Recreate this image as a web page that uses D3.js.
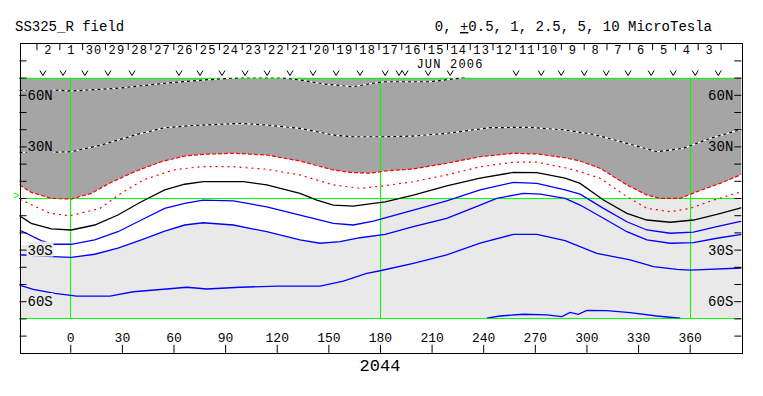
<!DOCTYPE html>
<html>
<head>
<meta charset="UTF-8">
<title>SS325_R field</title>
<script src="https://d3js.org/d3.v7.min.js"></script>
<style>
  body { margin: 0; background: #fff; }
  text { font-family: "Liberation Mono", "DejaVu Sans Mono", monospace; fill: #000; }
</style>
</head>
<body>
<div id="chart"></div>
<script>
// day labels across the top (JUN 2006) and their longitudes
const days = [2, 1, 30, 29, 28, 27, 26, 25, 24, 23, 22, 21, 20, 19, 18, 17, 16, 15, 14, 13, 12, 11, 10, 9, 8, 7, 6, 5, 4, 3];
const dayLons = [-13, 0.3, 13.5, 26.8, 40, 53.3, 66.5, 79.8, 93, 106.3, 119.5, 132.8, 146, 159.3, 172.5,
                 185.8, 199, 212.3, 225.5, 238.8, 252, 265.3, 278.5, 291.8, 305, 318.3, 331.5, 344.8, 358, 371.3];
// "v" pass markers
const markerLons = [-15.9, -4.2, 8.5, 21.9, 35.9, 63.2, 75.4, 88.2, 101.6, 114.4, 127.7, 141.1, 154.5, 168.4,
                    183.0, 191.1, 194.6, 208.0, 220.8, 259.1, 273.7, 285.3, 298.7, 311.5, 324.2, 337.6, 350.4, 363.2, 376.6];
const lonTicks = [0, 30, 60, 90, 120, 150, 180, 210, 240, 270, 300, 330, 360];
const latTicks = [-80, -70, -60, -50, -40, -30, -20, -10, 0, 10, 20, 30, 40, 50, 60, 70, 80];
const latLabels = [[60, "60N"], [30, "30N"], [-30, "30S"], [-60, "60S"]];

// contour lines [lon, lat]
const dottedHigh = [[-29.5,62.5],[-10.1,62.8],[0.6,62.2],[27.7,63.8],[54.9,66.7],[77.2,68.6],[98.7,69.9],[122,69.9],
  [133.5,68.6],[149,66.1],[164.4,64.7],[176,66.7],[183,67.6],[191.7,67.6],[209.1,67.6],[228.3,69.9],[230,70.3]];
const dottedLow = [[-29.5,26.5],[-10.1,26.6],[0.6,26.9],[18.0,30.8],[37.4,36.6],[54.9,40.9],[68.4,42.0],[98.7,43.4],
  [114.2,42.4],[133.5,40.5],[152.9,36.6],[164.5,35.6],[183.0,35.6],[199.4,36.0],[218.8,37.6],[244.0,40.9],
  [267.3,41.1],[287.6,39.5],[304.1,37.0],[323.5,31.8],[340.9,26.9],[356.4,28.9],[371.9,34.7],[390.3,39.9]];
const redDashed = [[-29.5,7.6],[-22.7,3.3],[-11.0,-0.2],[0.6,-0.6],[12.2,2.7],[23.8,9.1],[37.4,15.3],[52.9,21.1],
  [66.5,24.4],[77.2,25.4],[94.8,26.0],[114.2,25.0],[133.5,21.5],[152.9,16.3],[162.6,14.9],[174.2,14.4],
  [183.0,15.7],[199.4,16.9],[218.8,20.2],[238.2,24.0],[257.6,26.0],[271.2,25.6],[287.6,23.4],[296.3,21.5],
  [307.9,17.3],[323.5,7.6],[335.1,1.7],[342.9,-0.2],[354.5,-0.2],[364.2,3.7],[377.7,8.5],[390.3,13.8]];
const redDotted = [[-29.2,-0.8],[-11.8,-8.9],[-0.2,-10.3],[17.3,-6.0],[28.9,2.3],[42.4,10.5],[59.9,16.3],[75.6,18.2],
  [94.8,18.2],[114.2,16.7],[133.5,13.4],[152.9,7.6],[168.4,5.6],[183.0,7.2],[199.4,9.5],[218.8,13.4],
  [238.2,18.2],[257.6,20.8],[271.2,20.8],[287.6,17.6],[296.3,15.3],[307.9,11.5],[323.5,0.8],[335.1,-6.0],
  [348.7,-8.0],[360.3,-6.0],[373.8,-1.2],[390.3,3.7]];
const zeroLine = [[-29.5,-10.3],[-22.7,-14.7],[-11.0,-18.0],[0.6,-18.6],[14.2,-15.7],[27.7,-9.9],[41.3,-2.2],
  [54.9,4.7],[66.5,8.0],[77.2,9.5],[100.6,9.5],[114.2,7.6],[133.5,2.7],[143.3,-1.2],[152.9,-4.1],[164.5,-4.7],
  [176.2,-3.1],[183.0,-2.2],[199.4,1.7],[218.8,7.0],[238.2,11.5],[257.6,14.9],[271.2,14.7],[287.6,11.5],
  [296.3,8.5],[309.9,-1.2],[323.5,-8.9],[335.1,-12.8],[348.7,-14.1],[362.2,-12.8],[375.8,-9.5],[390.3,-5.6]];
const blue1 = [[-29.5,-18.6],[-16.9,-24.8],[-10.1,-26.9],[0.6,-26.9],[14.2,-24.4],[27.7,-19.6],[41.3,-12.8],
  [54.9,-6.0],[66.5,-3.1],[77.2,-1.2],[94.8,-1.7],[114.2,-5.1],[133.5,-9.9],[152.9,-14.7],[164.5,-15.7],
  [176.2,-13.4],[183.0,-11.5],[199.4,-7.0],[218.8,-1.7],[238.2,4.7],[257.6,9.1],[271.2,8.5],[287.6,4.7],
  [296.3,2.2],[309.9,-6.0],[323.5,-13.8],[335.1,-18.6],[348.7,-20.5],[362.2,-19.9],[375.8,-16.7],[390.3,-13.4]];
const blue2 = [[-29.5,-33.0],[-10.1,-34.1],[0.6,-34.5],[14.2,-32.7],[27.7,-29.2],[41.3,-24.4],[54.9,-19.2],
  [66.5,-15.7],[77.2,-14.4],[94.8,-15.7],[114.2,-19.6],[133.5,-24.4],[145.2,-26.3],[156.8,-25.4],[168.4,-23.1],
  [183.0,-21.1],[199.4,-16.7],[218.8,-11.8],[238.2,-4.1],[247.9,-0.2],[263.4,2.7],[273.1,2.3],[287.6,-0.2],
  [296.3,-4.1],[309.9,-11.8],[323.5,-19.6],[335.1,-24.4],[348.7,-26.3],[362.2,-26.0],[375.8,-23.4],[390.3,-21.1]];
const blue3 = [[-29.5,-50.6],[-21.5,-53.1],[-8.9,-55.4],[3.7,-57.0],[23.1,-57.0],[36.6,-54.5],[56.0,-52.9],
  [67.7,-51.9],[79.3,-52.9],[98.7,-51.9],[120.0,-51.2],[145.2,-51.2],[158.7,-48.3],[172.3,-43.8],[180.1,-42.3],
  [199.4,-38.0],[218.8,-33.1],[238.2,-26.3],[257.6,-21.1],[271.2,-21.1],[287.6,-24.8],[306.0,-32.2],
  [325.4,-36.0],[339.0,-39.9],[352.6,-41.5],[360.3,-41.9],[390.3,-40.7]];
const blue4 = [[242.1,-69.9],[249.8,-68.6],[263.4,-67.6],[277.0,-68.0],[285.7,-69.0],[290.5,-66.5],[295.3,-67.6],
  [300.2,-65.3],[311.9,-65.5],[325.4,-66.7],[340.9,-68.6],[354.5,-69.9]];
// upper edge of the light grey shading
const lightEdge = [[-29.5,-27.3],[-12,-27.3],[-10.1,-34.1],[0.6,-34.5],[14.2,-32.7],[27.7,-29.2],[41.3,-24.4],
  [54.9,-19.2],[66.5,-15.7],[77.2,-14.4],[94.8,-15.7],[114.2,-19.6],[133.5,-24.4],[145.2,-26.3],[156.8,-25.4],
  [168.4,-23.1],[180,-21.5],[180,0],[390.3,0]];

const W = 763, H = 396;
const svg = d3.select("#chart").append("svg").attr("width", W).attr("height", H);

const x = d3.scaleLinear().domain([-29.5, 390]).range([19.5, 741.3]);
const y = d3.scaleLinear().domain([-90, 90]).range([352.8, 43.2]);
const px = v => Math.round(v) + 0.5;   // snap to pixel centres for 1px rules

svg.append("defs").append("clipPath").attr("id", "plot")
   .append("rect").attr("x", x(-29.5)).attr("y", y(70))
   .attr("width", x(390) - x(-29.5)).attr("height", y(-70) - y(70));

const g = svg.append("g").attr("clip-path", "url(#plot)");

// shaded regions
g.append("path")
 .datum(lightEdge)
 .attr("fill", "#e9e9e9")
 .attr("d", d3.area().x(d => x(d[0])).y0(y(-70)).y1(d => y(d[1])));

g.append("path")
 .datum(redDashed)
 .attr("fill", "#a5a5a5")
 .attr("d", d3.area().x(d => x(d[0])).y0(y(70)).y1(d => y(d[1])));

const line = d3.line().x(d => x(d[0])).y(d => y(d[1]));

// green grid
[70, 0, -70].forEach(lat => {
  svg.append("line").attr("x1", x(-29.5)).attr("x2", x(390)).attr("y1", px(y(lat))).attr("y2", px(y(lat)))
     .attr("stroke", "#00ff00").attr("stroke-width", 1);
});
[0, 180, 360].forEach(lon => {
  svg.append("line").attr("x1", px(x(lon))).attr("x2", px(x(lon))).attr("y1", y(70)).attr("y2", y(-70))
     .attr("stroke", "#00ff00").attr("stroke-width", 1);
});

const lines = svg.append("g").attr("clip-path", "url(#plot)").attr("fill", "none");
[dottedHigh, dottedLow].forEach(d => {
  lines.append("path").datum(d).attr("d", line).attr("stroke", "#fff").attr("stroke-width", 1.2);
  lines.append("path").datum(d).attr("d", line).attr("stroke", "#000").attr("stroke-width", 1.2)
       .attr("stroke-dasharray", "3,3");
});
lines.append("path").datum(redDashed).attr("d", line).attr("stroke", "#ff0000").attr("stroke-width", 1.2)
     .attr("stroke-dasharray", "4,2");
lines.append("path").datum(redDotted).attr("d", line).attr("stroke", "#ff0000").attr("stroke-width", 1.2)
     .attr("stroke-dasharray", "2,4");
lines.append("path").datum(zeroLine).attr("d", line).attr("stroke", "#000").attr("stroke-width", 1.3);
[blue1, blue2, blue3, blue4].forEach(d => {
  lines.append("path").datum(d).attr("d", line).attr("stroke", "#0000ff").attr("stroke-width", 1.3);
});

// latitude labels with backing boxes
latLabels.forEach(([lat, t]) => {
  const fill = lat > 0 ? "#a5a5a5" : "#e9e9e9";
  svg.append("rect").attr("x", x(-29.5) + 7).attr("y", y(lat) - 8).attr("width", 27).attr("height", 15).attr("fill", fill);
  svg.append("text").attr("x", x(-29.5) + 8).attr("y", y(lat)).attr("dy", "0.35em")
     .style("font-size", "14px").text(t);
  svg.append("text").attr("x", x(390) - 8).attr("y", y(lat)).attr("dy", "0.35em")
     .attr("text-anchor", "end").style("font-size", "14px").text(t);
});

// frame
svg.append("rect").attr("x", px(x(-29.5))).attr("y", px(y(90)))
   .attr("width", Math.round(x(390) - x(-29.5))).attr("height", Math.round(y(-90) - y(90)))
   .attr("fill", "none").attr("stroke", "#000");

// lat ticks on both sides
svg.append("g").attr("transform", `translate(${x(-29.5)},0)`)
   .call(d3.axisRight(y).tickValues(latTicks).tickSize(7).tickFormat(""))
   .call(a => a.select(".domain").remove());
svg.append("g").attr("transform", `translate(${x(390)},0)`)
   .call(d3.axisLeft(y).tickValues(latTicks).tickSize(7).tickFormat(""))
   .call(a => a.select(".domain").remove());

// longitude axis at the bottom, ticks pointing up
svg.append("g").attr("transform", `translate(0,${y(-90)})`)
   .call(d3.axisTop(x).tickValues(lonTicks).tickSize(8).tickPadding(3))
   .call(a => a.select(".domain").remove())
   .call(a => a.selectAll("text").style("font-size", "13px").style("font-family", '"Liberation Mono", monospace'));

// day ticks and labels at the top
const dayTicks = [dayLons[0] - (dayLons[1] - dayLons[0]) / 2]
  .concat(dayLons.slice(1).map((d, i) => (d + dayLons[i]) / 2))
  .concat([dayLons[dayLons.length - 1] + (dayLons[1] - dayLons[0]) / 2]);
svg.append("g").attr("transform", `translate(0,${y(90)})`)
   .call(d3.axisBottom(x).tickValues(dayTicks).tickSize(7).tickFormat(""))
   .call(a => a.select(".domain").remove());
svg.append("g").selectAll("text").data(days).enter().append("text")
   .attr("x", (d, i) => x(dayLons[i]) + 0.6).attr("y", 54)
   .attr("text-anchor", "middle").style("font-size", "12px").style("letter-spacing", "1.2px").text(d => d);
svg.append("text").attr("x", 450).attr("y", 67.8).attr("text-anchor", "middle")
   .style("font-size", "12px").style("letter-spacing", "1.2px").text("JUN 2006");

// pass markers drawn as small v shapes
svg.append("g").selectAll("path").data(markerLons).enter().append("path")
   .attr("d", d => `M${x(d) - 3},70.5L${x(d)},75.5L${x(d) + 3},70.5`)
   .attr("fill", "none").attr("stroke", "#000").attr("stroke-width", 1);

// small green marker at the left edge
svg.append("path").attr("d", `M14,${y(3)}L19,${y(1.5)}L14,${y(0)}`)
   .attr("fill", "none").attr("stroke", "#00ff00");

// titles
svg.append("text").attr("x", 15).attr("y", 31).style("font-size", "14px").text("SS325_R field");
const right = svg.append("text").attr("x", 712).attr("y", 31).attr("text-anchor", "end").style("font-size", "14px");
right.append("tspan").text("0, ");
right.append("tspan").style("text-decoration", "underline").text("+");
right.append("tspan").text("0.5, 1, 2.5, 5, 10 MicroTesla");

svg.append("text").attr("x", x(180)).attr("y", 371).attr("text-anchor", "middle")
   .style("font-size", "17px").style("font-family", '"Liberation Mono", monospace').text("2044");
</script>
</body>
</html>
